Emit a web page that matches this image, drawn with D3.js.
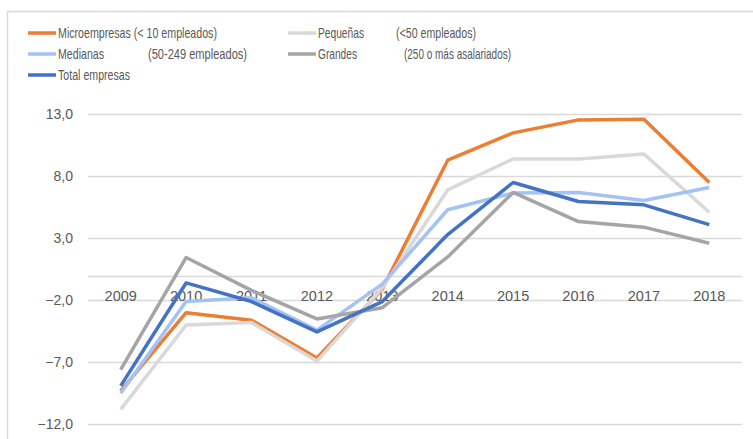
<!DOCTYPE html>
<meta charset="utf-8">
<script src="https://d3js.org/d3.v7.min.js"></script>
<style>
  body { margin: 0; background: #fff; }
  text { font-family: "Liberation Sans", Arial, sans-serif; }
</style>
<div id="chart"></div>
<script>
// data
var years = ["2009","2010","2011","2012","2013","2014","2015","2016","2017","2018"];
var yTicks = [-12, -7, -2, 3, 8, 13];

var micro     = [-9.3, -3.0, -3.6, -6.65, -1.1, 9.3, 11.5, 12.55, 12.6, 7.5];
var pequenas  = [-10.8, -4.0, -3.8, -6.9, -1.0, 6.9, 9.4, 9.4, 9.8, 5.1];
var medianas  = [-9.5, -2.1, -1.8, -4.4, -0.7, 5.3, 6.65, 6.7, 6.05, 7.1];
var grandes   = [-7.6, 1.45, -1.2, -3.5, -2.6, 1.5, 6.7, 4.35, 3.9, 2.6];
var total     = [-8.9, -0.6, -2.1, -4.55, -2.1, 3.3, 7.5, 5.97, 5.7, 4.1];

var seriesNames = ["Microempresas", "Pequeñas", "Medianas", "Grandes", "Total empresas"];
var seriesNotes = ["(< 10 empleados)", "(<50 empleados)", "(50-249 empleados)", "(250 o más asalariados)", ""];
var seriesColors = ["#ED7D31", "#D9D9D9", "#A4C2F4", "#A5A5A5", "#4472C4"];
var seriesValues = [micro, pequenas, medianas, grandes, total];

var W = 753, H = 439;
var svg = d3.select("#chart").append("svg")
    .attr("width", W).attr("height", H);

// outer frame
svg.append("rect")
    .attr("x", 7.5).attr("y", 11.5)
    .attr("width", 760).attr("height", 440)
    .attr("fill", "none").attr("stroke", "#D9D9D9").attr("stroke-width", 1.5);

var x = d3.scaleBand().domain(years).range([88, 742]);
var y = d3.scaleLinear().domain([-12, 13]).range([424.3, 114.3]);

// gridlines
svg.append("g").selectAll("line")
  .data(yTicks.concat([0]))
  .enter().append("line")
    .attr("x1", 88).attr("x2", 742)
    .attr("y1", function(d) { return Math.round(y(d)) + 0.5; })
    .attr("y2", function(d) { return Math.round(y(d)) + 0.5; })
    .attr("stroke", "#D9D9D9").attr("stroke-width", 1.5);

// y labels
var fmt = function(d) { return d3.format(".1f")(d).replace(".", ","); };
svg.append("g").selectAll("text")
  .data(yTicks)
  .enter().append("text")
    .attr("x", 73)
    .attr("y", function(d) { return y(d); })
    .attr("dy", "0.35em")
    .attr("text-anchor", "end")
    .attr("font-size", 14)
    .attr("fill", "#595959")
    .text(fmt);

// category labels, just under the zero line
svg.append("g").selectAll("text")
  .data(years)
  .enter().append("text")
    .attr("x", function(d) { return x(d) + x.bandwidth() / 2; })
    .attr("y", y(0) + 25)
    .attr("text-anchor", "middle")
    .attr("font-size", 14.5)
    .attr("fill", "#595959")
    .text(function(d) { return d; });

// lines
var line = d3.line()
    .x(function(d, i) { return x(years[i]) + x.bandwidth() / 2; })
    .y(function(d) { return y(d); });

seriesValues.forEach(function(vals, k) {
  svg.append("path")
    .datum(vals)
    .attr("d", line)
    .attr("fill", "none")
    .attr("stroke", seriesColors[k])
    .attr("stroke-width", 3.5)
    .attr("stroke-linejoin", "round");
});

// legend
var legPos = [
  {x: 28, y: 33, nx: 147},
  {x: 288, y: 33, nx: 396},
  {x: 28, y: 54, nx: 148},
  {x: 288, y: 54, nx: 404},
  {x: 28, y: 75, nx: 0}
];
var legW = [
  [159, 0], [46, 80], [46, 99], [39, 107], [72, 0]
];
var leg = svg.append("g");
seriesNames.forEach(function(name, k) {
  var p = legPos[k];
  leg.append("line")
    .attr("x1", p.x).attr("x2", p.x + 28)
    .attr("y1", p.y).attr("y2", p.y)
    .attr("stroke", seriesColors[k]).attr("stroke-width", 3.5);
  var label = k === 0 ? name + " " + seriesNotes[k] : name;
  leg.append("text")
    .attr("x", p.x + 30).attr("y", p.y)
    .attr("dy", "0.35em")
    .attr("font-size", 15)
    .attr("fill", "#595959")
    .attr("textLength", legW[k][0])
    .attr("lengthAdjust", "spacingAndGlyphs")
    .text(label);
  if (k > 0 && seriesNotes[k]) {
    leg.append("text")
      .attr("x", p.nx).attr("y", p.y)
      .attr("dy", "0.35em")
      .attr("font-size", 15)
      .attr("fill", "#595959")
      .attr("textLength", legW[k][1])
      .attr("lengthAdjust", "spacingAndGlyphs")
      .text(seriesNotes[k]);
  }
});
</script>
